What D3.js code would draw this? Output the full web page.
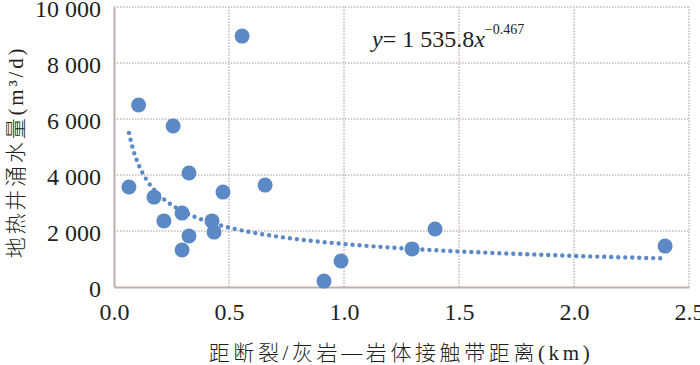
<!DOCTYPE html>
<html>
<head>
<meta charset="utf-8">
<script src="https://cdn.jsdelivr.net/npm/d3@7"></script>
<style>
  body { margin: 0; background: #fff; }
  text { font-family: "Liberation Serif", "Noto Sans CJK SC", serif; fill: #231f20; }
</style>
</head>
<body>
<svg id="chart" width="700" height="365"></svg>
<script>
// distance to fault / contact zone (km) and well yield (m3/d)
var distKm = [0.065, 0.107, 0.174, 0.217, 0.257, 0.296, 0.296, 0.326, 0.326, 0.426,
              0.435, 0.474, 0.557, 0.657, 0.913, 0.987, 1.296, 1.396, 2.396]
var yieldM3 = [3570, 6500, 3210, 2360, 5750, 2640, 1320, 4070, 1820, 2360,
               1960, 3390, 8960, 3640, 210, 930, 1360, 2070, 1460]
var xTicks = [0, 0.5, 1.0, 1.5, 2.0, 2.5]
var yTicks = [0, 2000, 4000, 6000, 8000, 10000]
// power trendline shown on the chart: y = a * x^b
var trendA = 1535.8
var trendB = -0.467

var svg = d3.select('#chart')
var m = {left: 114, right: 11, top: 7, bottom: 78}
var W = 700, H = 365
var serif = '"Liberation Serif", serif'

var x = d3.scaleLinear().domain([0, 2.5]).range([m.left, W - m.right])
var y = d3.scaleLinear().domain([0, 10000]).range([H - m.bottom, m.top])

var fmtY = d3.formatLocale({decimal: '.', thousands: ' ', grouping: [3], currency: ['', '']}).format(',')
var fmtX = d3.format('.1f')

var gridColor = '#d4c8c4'

// grid
svg.append('g').selectAll('line')
    .data(yTicks.slice(1))
    .enter().append('line')
    .attr('x1', x(0)).attr('x2', x(2.5))
    .attr('y1', function(d) { return y(d) }).attr('y2', function(d) { return y(d) })
    .attr('stroke', gridColor).attr('stroke-width', 2).attr('stroke-dasharray', '1.5,1.5')
svg.append('g').selectAll('line')
    .data(xTicks.slice(1))
    .enter().append('line')
    .attr('x1', function(d) { return x(d) }).attr('x2', function(d) { return x(d) })
    .attr('y1', y(0)).attr('y2', y(10000))
    .attr('stroke', gridColor).attr('stroke-width', 2).attr('stroke-dasharray', '1.5,1.5')

// axes
var yAxis = svg.append('g')
    .attr('transform', 'translate(' + x(0) + ',0)')
    .call(d3.axisLeft(y).tickValues(yTicks).tickFormat(fmtY).tickSize(0).tickPadding(13))
var xAxis = svg.append('g')
    .attr('transform', 'translate(0,' + y(0) + ')')
    .call(d3.axisBottom(x).tickValues(xTicks).tickFormat(fmtX).tickSize(0).tickPadding(16))
;[xAxis, yAxis].forEach(function(g) {
    g.attr('font-family', null).attr('font-size', null)
    g.select('.domain').attr('stroke', '#bcb0ab').attr('stroke-width', 2)
    g.selectAll('text').style('font-size', '24px').attr('fill', '#231f20')
        .style('font-family', serif)
})
yAxis.selectAll('text').attr('dy', '0.38em')

// trendline
var trendPts = d3.range(0, 201).map(function(i) {
    var xv = d3.min(distKm) + (d3.max(distKm) - d3.min(distKm)) * i / 200
    return [xv, trendA * Math.pow(xv, trendB)]
})
svg.append('path')
    .datum(trendPts)
    .attr('d', d3.line().x(function(d) { return x(d[0]) }).y(function(d) { return y(d[1]) }))
    .attr('fill', 'none')
    .attr('stroke', '#5b89c5')
    .attr('stroke-width', 4.4)
    .attr('stroke-linecap', 'round')
    .attr('stroke-dasharray', '0,7')

// points
svg.append('g').selectAll('circle')
    .data(distKm)
    .enter().append('circle')
    .attr('cx', function(d) { return x(d) })
    .attr('cy', function(d, i) { return y(yieldM3[i]) })
    .attr('r', 7.5)
    .attr('fill', '#5b89c5')

// equation
var eq = svg.append('text')
    .attr('x', 372).attr('y', 47)
    .style('font-family', serif)
    .style('font-size', '24px')
eq.append('tspan').style('font-style', 'italic').text('y')
eq.append('tspan').text('= 1 535.8')
eq.append('tspan').style('font-style', 'italic').text('x')
eq.append('tspan').attr('dy', -13).style('font-size', '14px').text('\u22120.467')

// axis titles
svg.append('text')
    .attr('x', 401).attr('y', 360)
    .attr('text-anchor', 'middle')
    .style('font-size', '21px')
    .style('font-weight', 300)
    .style('letter-spacing', '3.6px')
    .text('距断裂/灰岩—岩体接触带距离(km)')

svg.append('text')
    .attr('transform', 'translate(23,152) rotate(-90)')
    .attr('text-anchor', 'middle')
    .style('font-size', '21px')
    .style('font-weight', 300)
    .style('letter-spacing', '2.8px')
    .text('地热井涌水量(m³/d)')
</script>
</body>
</html>
